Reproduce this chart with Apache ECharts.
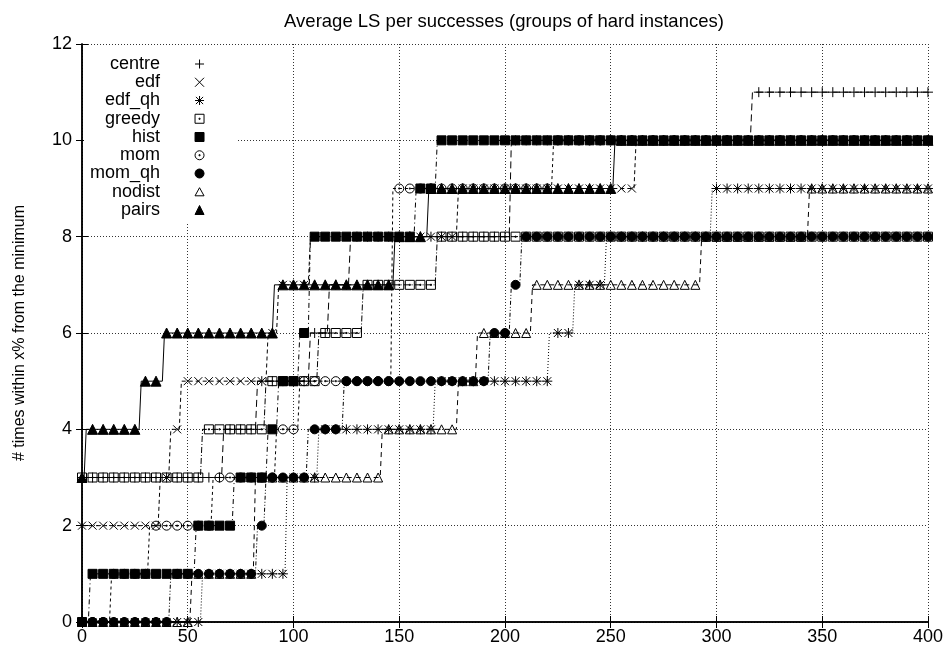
<!DOCTYPE html>
<html>
<head>
<meta charset="utf-8">
<script src="https://cdn.jsdelivr.net/npm/echarts@6/dist/echarts.min.js"></script>
<style>
html, body { margin: 0; padding: 0; background: #fff; }
#chart { width: 946px; height: 653px; }
</style>
</head>
<body>
<div id="chart"></div>
<script>
// each list: [first x where the level holds, level]
var centre = [[0, 3], [67, 4], [83, 5], [108, 6], [117, 7], [127, 8], [203, 10], [317, 11]]
var edf = [[0, 2], [37, 3], [42, 4], [47, 5], [88, 6], [93, 7], [108, 8], [178, 9], [262, 10]]
var edf_qh = [[0, 0], [57, 1], [97, 3], [112, 4], [167, 5], [221, 6], [233, 7], [248, 8], [298, 9]]
var greedy = [[0, 3], [57, 4], [87, 5], [112, 6], [133, 7], [168, 8]]
var hist = [[0, 0], [4, 1], [54, 2], [72, 3], [88, 4], [93, 5], [103, 6], [108, 8], [158, 9], [168, 10]]
var mom = [[0, 0], [14, 1], [32, 2], [62, 3], [92, 4], [103, 5], [147, 9], [223, 10]]
var mom_qh = [[0, 0], [42, 1], [83, 2], [87, 3], [107, 4], [124, 5], [193, 6], [203, 7], [208, 8]]
var nodist = [[0, 0], [52, 1], [82, 3], [142, 4], [178, 5], [187, 6], [213, 7], [293, 8], [344, 9]]
var pairs = [[0, 3], [2, 4], [28, 5], [39, 6], [91, 7], [148, 8], [164, 9], [252, 10]]

var xMax = 400
var markStep = 5

var font = 'Liberation Sans, Arial, sans-serif'

// gnuplot style point types
var dot = 'M-0.6,-0.6L0.6,-0.6L0.6,0.6L-0.6,0.6Z'
var styles = {
  centre: { symbol: 'path://M0,-5L0,5M-5,0L5,0', size: 10, fill: 'none', dash: [7, 4] },
  edf: { symbol: 'path://M-5,-5L5,5M-5,5L5,-5', size: 8, fill: 'none', dash: [4, 3] },
  edf_qh: { symbol: 'path://M0,-5L0,5M-5,0L5,0M-4,-4L4,4M-4,4L4,-4', size: 10, fill: 'none', dash: [1, 2] },
  greedy: { symbol: 'path://M-5,-5L5,-5L5,5L-5,5Z' + dot, size: 9, fill: 'none', dash: [6, 2, 1, 2] },
  hist: { symbol: 'rect', size: 9, fill: '#000', dash: [5, 3, 1, 3] },
  mom: { symbol: 'path://M5,0A5,5 0 1,1 -5,0A5,5 0 1,1 5,0Z' + dot, size: 9, fill: 'none', dash: [3, 3] },
  mom_qh: { symbol: 'circle', size: 9, fill: '#000', dash: [4, 2, 1, 2, 1, 2] },
  nodist: { symbol: 'path://M0,-5L5,4L-5,4Z', size: 9, fill: 'none', dash: [5, 4] },
  pairs: { symbol: 'triangle', size: 10, fill: '#000', dash: 'solid' }
}

var seriesData = {
  centre: centre, edf: edf, edf_qh: edf_qh, greedy: greedy, hist: hist,
  mom: mom, mom_qh: mom_qh, nodist: nodist, pairs: pairs
}
var names = ['centre', 'edf', 'edf_qh', 'greedy', 'hist', 'mom', 'mom_qh', 'nodist', 'pairs']

function levelAt(steps, x) {
  var v = steps[0][1]
  for (var i = 0; i < steps.length; i++) {
    if (steps[i][0] <= x) v = steps[i][1]
  }
  return v
}

function linePoints(steps) {
  var pts = []
  for (var i = 0; i < steps.length; i++) {
    var end = i + 1 < steps.length ? steps[i + 1][0] - 1 : xMax
    pts.push([steps[i][0], steps[i][1]])
    pts.push([end, steps[i][1]])
  }
  return pts
}

function markPoints(steps) {
  var pts = []
  for (var x = 0; x <= xMax; x += markStep) pts.push([x, levelAt(steps, x)])
  return pts
}

var series = []
names.forEach(function(n) {
  var st = styles[n]
  series.push({
    type: 'line',
    data: linePoints(seriesData[n]),
    showSymbol: false,
    symbol: 'none',
    silent: true,
    animation: false,
    lineStyle: { color: '#000', width: 1, type: st.dash }
  })
  series.push({
    name: n,
    type: 'scatter',
    data: markPoints(seriesData[n]),
    symbol: st.symbol,
    symbolSize: st.size,
    clip: false,
    animation: false,
    itemStyle: { color: st.fill, borderColor: '#000', borderWidth: 1, opacity: 1 }
  })
})

var myChart = echarts.init(document.getElementById('chart'))

option = {
  backgroundColor: '#fff',
  animation: false,
  title: {
    text: 'Average LS per successes (groups of hard instances)',
    left: 499,
    textAlign: 'center',
    top: 7,
    textStyle: { fontFamily: font, fontSize: 18.5, fontWeight: 'normal', color: '#000' }
  },
  legend: {
    orient: 'vertical',
    align: 'right',
    left: 85,
    top: 50,
    itemWidth: 9,
    itemHeight: 9,
    itemGap: 0.25,
    selectedMode: false,
    itemStyle: { borderWidth: 1, borderColor: '#000' },
    textStyle: { fontFamily: font, fontSize: 18, lineHeight: 18, color: '#000', padding: [0, 30, 0, 0] },
    data: names.map(function(n) {
      return { name: n, icon: styles[n].symbol }
    })
  },
  grid: { left: 82, right: 18, top: 44, bottom: 31, containLabel: false },
  // blank area behind the key, as in gnuplot
  graphic: [{
    type: 'rect',
    z: 1,
    shape: { x: 84, y: 46, width: 154, height: 176 },
    style: { fill: '#fff' },
    silent: true
  }],
  xAxis: [{
    type: 'value',
    min: 0,
    max: 400,
    interval: 50,
    axisLine: { lineStyle: { color: '#000', width: 1.5 } },
    axisTick: { inside: true, length: 6, lineStyle: { color: '#000' } },
    axisLabel: { color: '#000', fontFamily: font, fontSize: 18, margin: 6 },
    splitLine: { show: true, lineStyle: { color: '#333', type: [1, 2], width: 1 } }
  }, {
    type: 'value',
    position: 'top',
    min: 0,
    max: 400,
    interval: 50,
    axisLine: { show: true, lineStyle: { color: '#000', width: 1.5 } },
    axisTick: { inside: true, length: 6, lineStyle: { color: '#000' } },
    axisLabel: { show: false },
    splitLine: { show: false }
  }],
  yAxis: [{
    type: 'value',
    min: 0,
    max: 12,
    interval: 2,
    name: '# times within x% from the minimum',
    nameLocation: 'middle',
    nameGap: 54,
    nameTextStyle: { color: '#000', fontFamily: font, fontSize: 16 },
    axisLine: { show: true, lineStyle: { color: '#000', width: 1.5 } },
    axisTick: { inside: true, length: 6, lineStyle: { color: '#000' } },
    axisLabel: { color: '#000', fontFamily: font, fontSize: 18, margin: 10 },
    splitLine: { show: true, lineStyle: { color: '#333', type: [1, 2], width: 1 } }
  }, {
    type: 'value',
    position: 'right',
    min: 0,
    max: 12,
    interval: 2,
    axisLine: { show: true, lineStyle: { color: '#000', width: 1.5 } },
    axisTick: { inside: true, length: 6, lineStyle: { color: '#000' } },
    axisLabel: { show: false },
    splitLine: { show: false }
  }],
  series: series
}
myChart.setOption(option)
window.onresize = function() {
  myChart.resize()
}
</script>
</body>
</html>
